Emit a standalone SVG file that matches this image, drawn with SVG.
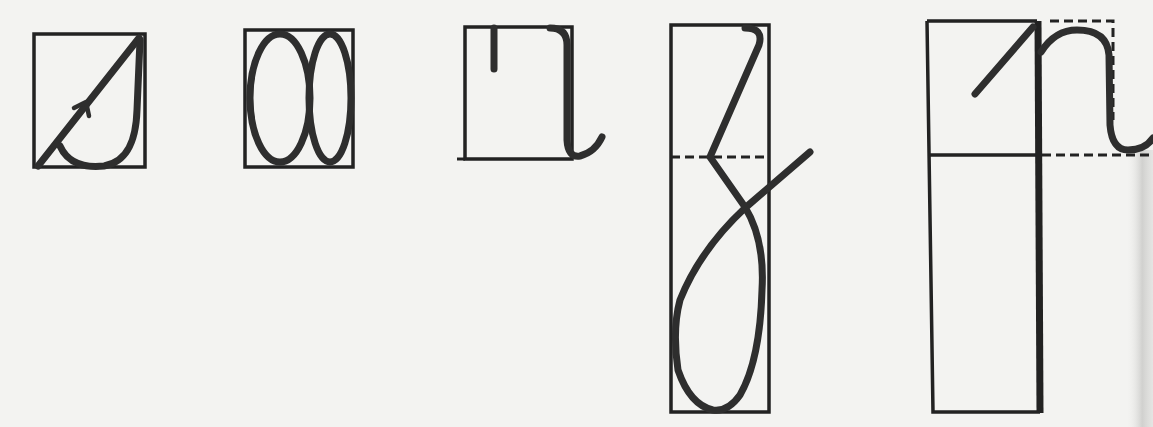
<svg xmlns="http://www.w3.org/2000/svg" width="1153" height="427" viewBox="0 0 1153 427">
<defs>
<linearGradient id="scan" x1="0" y1="0" x2="1" y2="0">
<stop offset="0" stop-color="#f3f3f1" stop-opacity="0"/>
<stop offset="0.6" stop-color="#c8c8c6" stop-opacity="0.8"/>
<stop offset="1" stop-color="#dcdcda" stop-opacity="0.6"/>
</linearGradient>
</defs>
<style>
.box{fill:none;stroke:#222;stroke-width:3.5}
.thick{fill:none;stroke:#222;stroke-width:7}
.stroke{fill:none;stroke:#2e2e2e;stroke-width:7;stroke-linecap:round;stroke-linejoin:round}
.dash{fill:none;stroke:#222;stroke-width:3;stroke-dasharray:9 5}
</style>
<rect width="1153" height="427" fill="#f3f3f1"/>
<rect x="1126" y="150" width="27" height="277" fill="url(#scan)"/>

<g id="letter-a">
<rect class="box" x="34" y="34" width="111" height="133"/>
<path class="stroke" d="M38,166 L139,38"/>
<path class="stroke" d="M60,146 C68,164 86,168 104,166 C128,162 136,140 137,110 L140,40"/>
<path class="stroke" style="stroke-width:4.5" d="M74,108 L86,102 L89,116"/>
</g>

<g id="letter-o">
<rect class="box" x="245" y="30" width="108" height="137"/>
<ellipse class="stroke" cx="280" cy="98" rx="30" ry="64"/>
<ellipse class="stroke" cx="330" cy="98" rx="21" ry="64"/>
</g>

<g id="letter-i">
<rect class="box" x="465" y="27" width="107" height="132"/>
<path class="dash" d="M457,159 L465,159"/>
<path class="stroke" d="M494,28 L494,69"/>
<path class="stroke" d="M550,28 Q567,28 567,45 L567,140 Q568,158 580,156 Q595,152 602,137"/>
</g>

<g id="letter-z">
<rect class="box" x="671" y="25" width="98" height="387"/>
<path class="dash" d="M671,157 L769,157"/>
<path class="stroke" d="M745,28 Q764,28 759,45 L710,157 L745,207 Q765,240 762,290 Q760,360 740,395 Q728,412 713,410 Q690,405 678,370 Q672,330 680,300 Q700,250 745,208 L810,152"/>
</g>

<g id="letter-n">
<path class="box" d="M927,21 L1037,21 M927,21 L933,412 L1040,412 M929,155 L1037,155"/>
<path class="thick" d="M1038,21 L1040,413"/>
<path class="dash" d="M1050,21 L1113,21 L1113,120"/>
<path class="dash" d="M1042,155 L1153,155"/>
<path class="stroke" d="M975,94 L1033,27"/>
<path class="stroke" d="M1041,52 Q1055,30 1077,30 Q1107,30 1109,55 L1110,125 Q1112,150 1128,150 Q1145,150 1153,138"/>
</g>
</svg>
